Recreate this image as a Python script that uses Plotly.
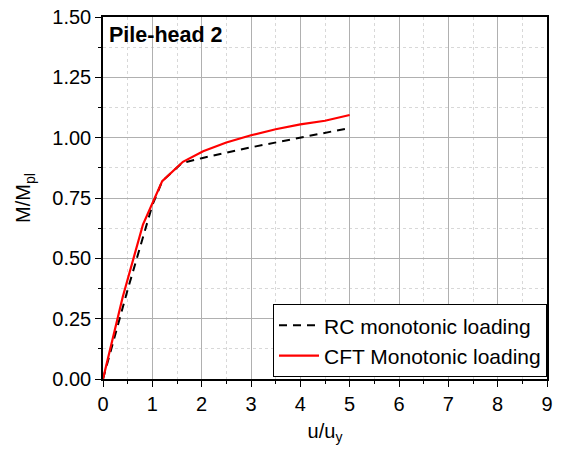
import plotly.graph_objects as go

rc_x = [0, 0.5, 1.0, 1.2, 1.6, 2.0, 3.0, 4.0, 5.0]
rc_y = [0, 0.37, 0.72, 0.82, 0.895, 0.915, 0.96, 1.0, 1.04]
cft_x = [0, 0.4, 0.81, 1.2, 1.62, 2.03, 2.5, 3.0, 3.5, 4.0, 4.5, 5.0]
cft_y = [0, 0.34, 0.64, 0.82, 0.9, 0.944, 0.98, 1.01, 1.035, 1.055, 1.07, 1.094]

fig = go.Figure()
fig.add_trace(go.Scatter(x=rc_x, y=rc_y, mode="lines", name="RC monotonic loading",
                         line=dict(color="black", width=2, dash="8px,6px")))
fig.add_trace(go.Scatter(x=cft_x, y=cft_y, mode="lines", name="CFT Monotonic loading",
                         line=dict(color="#ff0000", width=2.2)))

font = "Liberation Sans, Arial, sans-serif"
axis_common = dict(
    showline=True, linecolor="black", linewidth=1.5, mirror=True,
    ticks="outside", ticklen=6, tickwidth=1.2, tickcolor="black",
    showgrid=True, gridcolor="#b0b0b0", gridwidth=1,
    zeroline=False, automargin=False,
    tickfont=dict(family=font, size=20, color="black"),
)
fig.update_layout(
    width=562, height=457,
    margin=dict(l=103, r=15, t=17, b=78),
    paper_bgcolor="white", plot_bgcolor="white",
    font=dict(family=font, color="black"),
    xaxis=dict(range=[0, 9], dtick=1, tick0=0,
               minor=dict(dtick=0.5, ticks="outside", ticklen=3, tickcolor="black",
                          showgrid=True, gridcolor="#d8d8d8", griddash="dot"),
               title=dict(text="u/u<sub>y</sub>", font=dict(family=font, size=20), standoff=10),
               **axis_common),
    yaxis=dict(range=[0, 1.5], dtick=0.25, tick0=0, tickformat=".2f",
               minor=dict(dtick=0.125, ticks="outside", ticklen=3, tickcolor="black",
                          showgrid=True, gridcolor="#d8d8d8", griddash="dot"),
               title=dict(text="M/M<sub>pl</sub>", font=dict(family=font, size=20), standoff=16),
               **axis_common),
    legend=dict(x=1, y=0.005, xanchor="right", yanchor="bottom",
                bordercolor="black", borderwidth=1, bgcolor="white",
                font=dict(family=font, size=21, color="black"),
                tracegroupgap=0, itemwidth=40),
    showlegend=True,
)
fig.add_annotation(text="<b>Pile-head 2</b>", xref="paper", yref="paper",
                   x=0.01, y=0.99, xanchor="left", yanchor="top", showarrow=False,
                   font=dict(family=font, size=21.5, color="black"))
fig.write_html("out.html")
